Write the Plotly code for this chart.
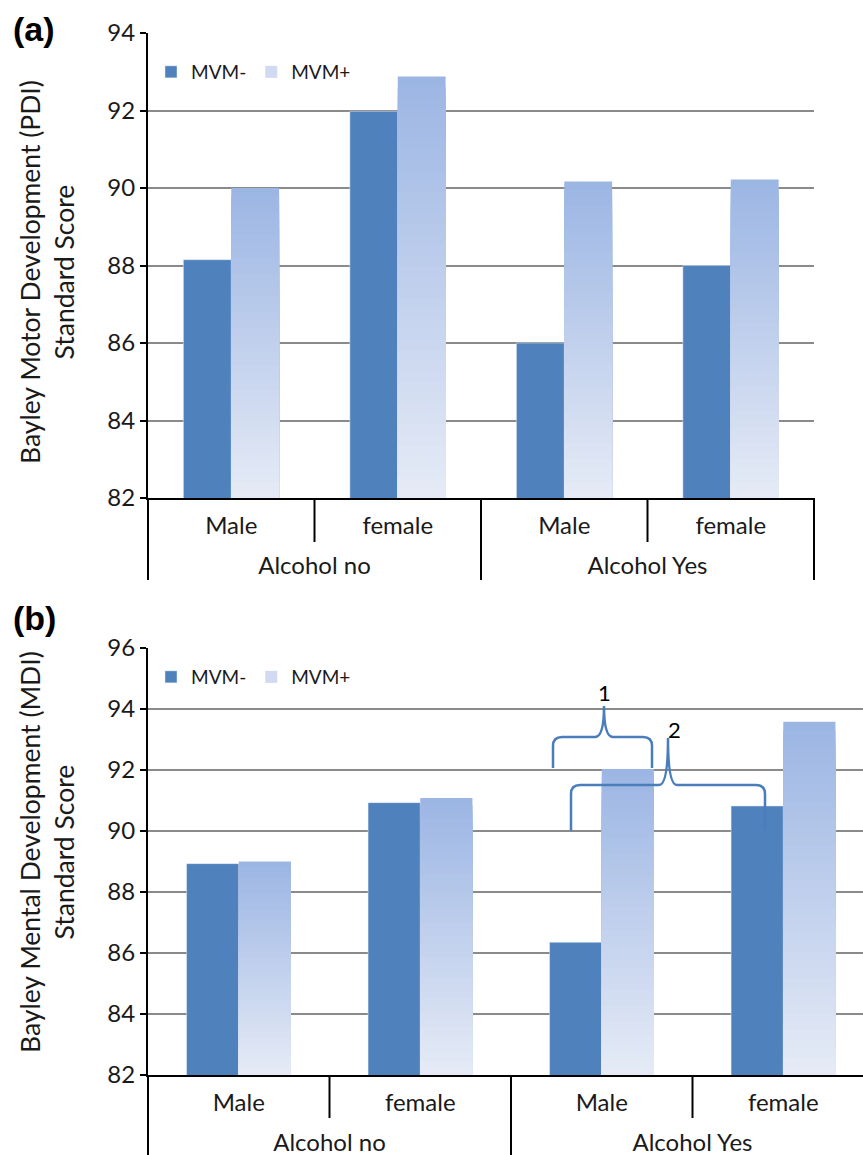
import plotly.graph_objects as go

# ---------------- data ----------------
groups = ["Alcohol no", "Alcohol no", "Alcohol Yes", "Alcohol Yes"]
sexes = ["Male", "female", "Male", "female"]
pdi_mvm_minus = [88.15, 91.98, 86.0, 88.0]
pdi_mvm_plus = [90.0, 92.88, 90.17, 90.22]
mdi_mvm_minus = [88.93, 90.93, 86.35, 90.82]
mdi_mvm_plus = [89.0, 91.08, 92.03, 93.58]
series_names = ["MVM-", "MVM+"]

W, H = 863, 1155
FONT = "Lato"
DARK = "#4f81bd"
TOP = (155, 181, 227)
BOT = (230, 235, 246)
N_LAYERS = 40

idx = list(range(len(sexes)))
group_names = list(dict.fromkeys(groups))
group_centers = [sum(i for i, g in zip(idx, groups) if g == name) /
                 groups.count(name) for name in group_names]


def px(x):
    return x / W


def py(y):
    return 1 - y / H


def lerp(c0, c1, t):
    return "rgb(%d,%d,%d)" % tuple(round(a + (b - a) * t) for a, b in zip(c0, c1))


fig = go.Figure()


def add_panel(minus, plus, xa, ya, xg, legend):
    fig.add_trace(go.Bar(x=idx, y=minus, name=series_names[0], marker_color=DARK,
                         offsetgroup="a", xaxis=xa, yaxis=ya, legend=legend,
                         showlegend=True))
    for k in range(N_LAYERS):
        frac = (N_LAYERS - k) / N_LAYERS
        pos = (N_LAYERS - k - 0.5) / N_LAYERS
        col = lerp(BOT, TOP, pos)
        fig.add_trace(go.Bar(x=idx, y=[82 + (v - 82) * frac for v in plus],
                             name=series_names[1], marker_color=col,
                             marker_line_width=0,
                             offsetgroup="b", xaxis=xa, yaxis=ya, legend=legend,
                             showlegend=(k == int(N_LAYERS * 0.7))))
    # invisible carrier trace so the group-label axis is drawn
    fig.add_trace(go.Scatter(x=group_centers, y=[82] * len(group_centers),
                             mode="markers", marker=dict(opacity=0),
                             xaxis=xg, yaxis=ya, showlegend=False, hoverinfo="skip"))


add_panel(pdi_mvm_minus, pdi_mvm_plus, "x", "y", "x3", "legend")
add_panel(mdi_mvm_minus, mdi_mvm_plus, "x2", "y2", "x4", "legend2")

# geometry (pixels)
A_L, A_R, A_T, A_B = 148, 814, 33, 498
B_L, B_T, B_B = 148, 648, 1075
B_CAT = 181.5
b_range_end = -0.5 + (W - B_L) / B_CAT

tickfont = dict(family=FONT, size=24, color="#1a1a1a")

xcommon = dict(type="linear", showline=True, linecolor="black", linewidth=2,
               ticks="", tickfont=tickfont, showgrid=False, zeroline=False,
               automargin=False, tickvals=idx, ticktext=sexes, ticklabelstandoff=5)
xgroup = dict(type="linear", showline=False, ticks="", tickfont=tickfont,
              showgrid=False, zeroline=False, automargin=False,
              tickvals=group_centers, ticktext=group_names, ticklabelstandoff=51,
              side="bottom")
ycommon = dict(showline=True, linecolor="black", linewidth=2, ticks="outside",
               ticklen=6, tickwidth=2, tickcolor="black", dtick=2,
               showgrid=True, gridcolor="#8a8a8a", gridwidth=2,
               tickfont=tickfont, zeroline=False, automargin=False)

legend_font = dict(family=FONT, size=19, color="#1a1a1a")

fig.update_layout(
    width=W, height=H, margin=dict(l=0, r=0, t=0, b=0, autoexpand=False),
    paper_bgcolor="white", plot_bgcolor="white",
    barmode="group", bargap=0.425, bargroupgap=0,
    xaxis=dict(domain=[px(A_L), px(A_R)], anchor="y", range=[-0.5, 3.5], **xcommon),
    yaxis=dict(domain=[py(A_B), py(A_T)], anchor="x", range=[82, 94], **ycommon),
    xaxis3=dict(overlaying="x", anchor="y", range=[-0.5, 3.5], **xgroup),
    xaxis2=dict(domain=[px(B_L), 1.0], anchor="y2", range=[-0.5, b_range_end], **xcommon),
    yaxis2=dict(domain=[py(B_B), py(B_T)], anchor="x2", range=[82, 96], **ycommon),
    xaxis4=dict(overlaying="x2", anchor="y2", range=[-0.5, b_range_end], **xgroup),
    legend=dict(orientation="h", x=px(151), y=py(72), xanchor="left", yanchor="middle",
                font=legend_font, bgcolor="rgba(0,0,0,0)"),
    legend2=dict(orientation="h", x=px(151), y=py(677), xanchor="left", yanchor="middle",
                 font=legend_font, bgcolor="rgba(0,0,0,0)"),
)

shapes = []


def vline(xp, y0, y1):
    shapes.append(dict(type="line", xref="paper", yref="paper", x0=px(xp), x1=px(xp),
                       y0=py(y0), y1=py(y1), line=dict(color="black", width=2)))


# category separators panel (a)
a_cat = (A_R - A_L) / 4
for i in range(5):
    xp = A_L + i * a_cat
    vline(xp, A_B, 580 if i % 2 == 0 else 542)
# panel (b)
for i in range(5):
    xp = B_L + i * B_CAT
    if xp <= W:
        vline(xp, B_B, 1155 if i % 2 == 0 else 1118)


def brace(x0, x1, xm, yb0, yb1, yh, ypk, r=9):
    p = (f"M {px(x0)},{py(yb0)} L {px(x0)},{py(yh + r)} "
         f"Q {px(x0)},{py(yh)} {px(x0 + r)},{py(yh)} "
         f"L {px(xm - 9)},{py(yh)} Q {px(xm)},{py(yh)} {px(xm)},{py(ypk)} "
         f"Q {px(xm)},{py(yh)} {px(xm + 9)},{py(yh)} "
         f"L {px(x1 - r)},{py(yh)} Q {px(x1)},{py(yh)} {px(x1)},{py(yh + r)} "
         f"L {px(x1)},{py(yb1)}")
    shapes.append(dict(type="path", xref="paper", yref="paper", path=p,
                       line=dict(color="#4a7ebb", width=2.5)))


brace(553, 652, 604, 768, 768, 737, 706)
brace(571, 765, 668, 831, 830, 785, 738)

fig.update_layout(shapes=shapes)

annotations = [
    dict(text="<b>(a)</b>", x=px(11), y=py(29), xanchor="left", yanchor="middle",
         font=dict(family="Liberation Sans", size=34, color="black")),
    dict(text="<b>(b)</b>", x=px(11), y=py(618), xanchor="left", yanchor="middle",
         font=dict(family="Liberation Sans", size=34, color="black")),
    dict(text="Bayley Motor Development (PDI)<br>Standard Score", x=px(47), y=py(272),
         textangle=-90, xanchor="center", yanchor="middle",
         font=dict(family=FONT, size=26.5, color="#1a1a1a")),
    dict(text="Bayley Mental Development (MDI)<br>Standard Score", x=px(47), y=py(852),
         textangle=-90, xanchor="center", yanchor="middle",
         font=dict(family=FONT, size=26.5, color="#1a1a1a")),
    dict(text="1", x=px(604), y=py(692), xanchor="center", yanchor="middle",
         font=dict(family=FONT, size=22, color="black")),
    dict(text="2", x=px(674), y=py(729), xanchor="center", yanchor="middle",
         font=dict(family=FONT, size=22, color="black")),
]
for a in annotations:
    a.update(xref="paper", yref="paper", showarrow=False)
fig.update_layout(annotations=annotations)

fig.write_html("out.html", config={"displayModeBar": False},
               post_script="document.body.style.margin='0px';"
                           "document.body.style.overflow='hidden';")
